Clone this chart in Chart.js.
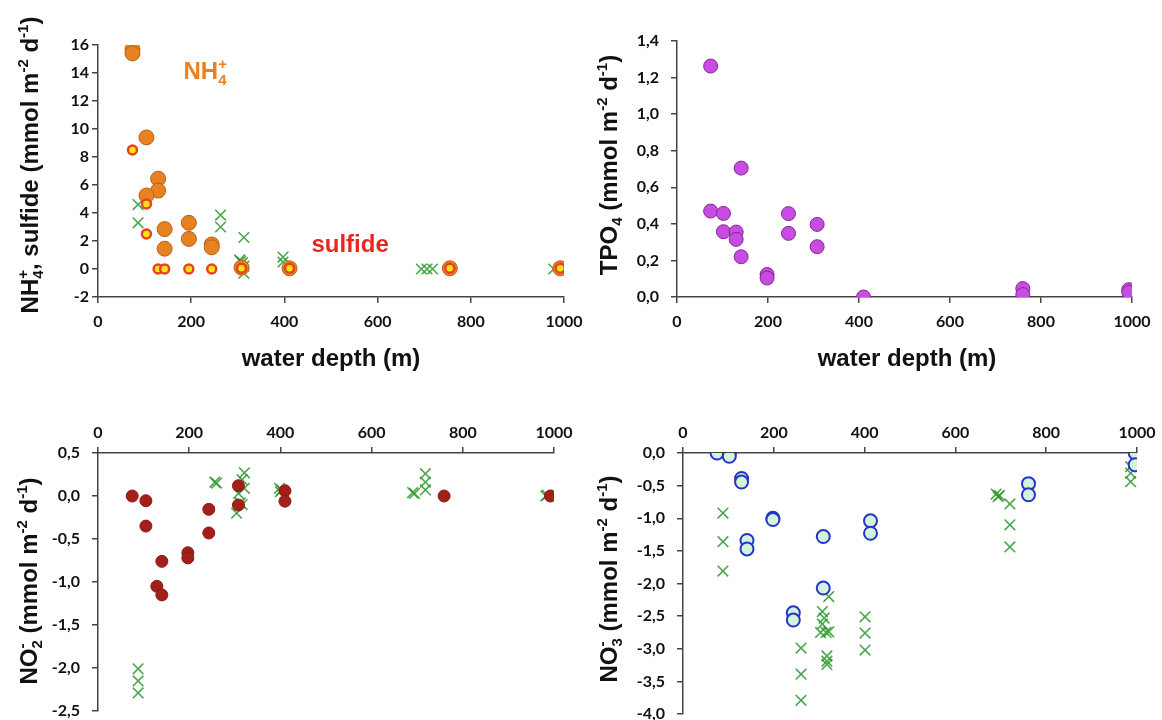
<!DOCTYPE html>
<html>
<head>
<meta charset="utf-8">
<script src="https://cdn.jsdelivr.net/npm/chart.js@4.4.0/dist/chart.umd.min.js"></script>
<style>
  body { margin: 0; background: #fff; overflow: hidden; width: 1162px; height: 720px; position: relative; }
  canvas { position: absolute; }
</style>
</head>
<body>
<canvas id="tl" width="620" height="395" style="left:0;top:0"></canvas>
<canvas id="tr" width="608" height="395" style="left:554px;top:0"></canvas>
<canvas id="bl" width="620" height="340" style="left:0;top:395px"></canvas>
<canvas id="br" width="608" height="343" style="left:554px;top:395px"></canvas>
<script>
var depthTicks = [0, 200, 400, 600, 800, 1000];

// top left: NH4+ and sulfide fluxes
var nh4Ticks = [-2, 0, 2, 4, 6, 8, 10, 12, 14, 16];
var nh4Depth = [74, 74, 104, 129, 129, 104, 143, 143, 195, 195, 244, 244, 308, 411, 755, 992];
var nh4Flux  = [15.7, 15.4, 9.4, 6.45, 5.6, 5.25, 2.85, 1.45, 3.3, 2.15, 1.75, 1.55, 0.1, 0.05, 0.05, 0.05];
var sulfDepth = [74, 104, 104, 129, 143, 195, 244, 308, 411, 755, 992];
var sulfFlux  = [8.5, 4.65, 2.5, 0, 0, 0, 0, 0.05, 0.05, 0.05, 0.05];
var nh4XDepth = [86, 86, 263, 263, 313, 304, 310, 306, 313, 313, 397, 397, 694, 706, 718, 978];
var nh4XFlux  = [4.6, 3.3, 3.85, 3.0, 2.25, 0.65, 0.45, 0.55, 0.2, -0.3, 0.85, 0.5, 0, 0, 0, 0];

// top right: TPO4
var tpoTicks = [0, 0.2, 0.4, 0.6, 0.8, 1.0, 1.2, 1.4];
var tpoDepth = [74, 74, 102, 102, 130, 130, 141, 141, 198, 198, 245, 245, 308, 308, 410, 760, 760, 993, 993];
var tpoFlux  = [1.263, 0.47, 0.457, 0.357, 0.355, 0.315, 0.705, 0.22, 0.123, 0.104, 0.456, 0.348, 0.397, 0.275, 0.0, 0.046, 0.013, 0.04, 0.026];

// bottom left: NO2-
var no2Ticks = [-2.5, -2.0, -1.5, -1.0, -0.5, 0.0, 0.5];
var no2Depth = [75, 105, 105, 140, 129, 140, 197, 197, 243, 243, 308, 308, 410, 410, 759, 992];
var no2Flux  = [0, -0.055, -0.35, -0.76, -1.05, -1.15, -0.66, -0.72, -0.155, -0.43, 0.12, -0.105, 0.06, -0.06, 0, 0];
var no2XDepth = [88, 88, 88, 260, 256, 321, 316, 321, 308, 316, 312, 304, 398, 400, 403, 694, 690, 718, 718, 718, 982, 985];
var no2XFlux  = [-2.01, -2.15, -2.29, 0.15, 0.16, 0.27, 0.19, 0.09, 0.03, -0.1, -0.08, -0.2, 0.09, 0.05, 0.07, 0.03, 0.04, 0.26, 0.16, 0.07, 0.0, 0.01];

// bottom right: NO3-
var no3Ticks = [-4.0, -3.5, -3.0, -2.5, -2.0, -1.5, -1.0, -0.5, 0.0];
var no3Depth = [75, 102, 102, 129, 129, 141, 141, 198, 198, 243, 243, 309, 309, 413, 413, 761, 761, 996, 996];
var no3Flux  = [0, 0, -0.05, -0.39, -0.445, -1.34, -1.47, -1.0, -1.02, -2.45, -2.56, -1.28, -2.07, -1.04, -1.23, -0.47, -0.64, 0, -0.18];
var no3XDepth = [88, 88, 88, 260, 260, 260, 307, 311, 307, 315, 303, 321, 321, 317, 317, 317, 401, 401, 401, 694, 690, 697, 720, 720, 720, 986, 986, 986];
var no3XFlux  = [-0.92, -1.36, -1.81, -2.99, -3.39, -3.79, -2.43, -2.53, -2.62, -2.75, -2.75, -2.2, -2.74, -3.11, -3.19, -3.24, -2.51, -2.76, -3.02, -0.67, -0.63, -0.65, -0.78, -1.1, -1.44, -0.21, -0.31, -0.44];

var axisColor = '#444';
var tickFont = { family: 'Lato, "Open Sans", sans-serif', size: 16, weight: 'bold' };
var green = 'rgba(45,150,45,0.85)';

function pts(xs, ys) {
  return xs.map(function (x, i) { return { x: x, y: ys[i] }; });
}

function comma(v) { return v.toFixed(1).replace('.', ','); }

function crosses(xs, ys) {
  return { data: pts(xs, ys), pointStyle: 'crossRot', pointRadius: 7.5, borderColor: green, borderWidth: 1.6, backgroundColor: green };
}

// draws text with sub/superscripts (axis titles and labels)
function drawRich(ctx, segs, x, y, size, color, rot) {
  ctx.save();
  ctx.translate(x, y);
  if (rot) ctx.rotate(-Math.PI / 2);
  ctx.fillStyle = color;
  ctx.textBaseline = 'alphabetic';
  var w = 0, prevW = 0, items = [];
  segs.forEach(function (s) {
    var fs = (s.sub || s.sup) ? Math.round(size * 0.62) : size;
    ctx.font = 'bold ' + fs + 'px "Liberation Sans", Arial, sans-serif';
    var sw = ctx.measureText(s.t).width;
    var sx = s.over ? w - prevW : w;
    items.push({ s: s, fs: fs, x: sx });
    w = s.over ? Math.max(w, sx + sw) : w + sw;
    prevW = sw;
  });
  items.forEach(function (it) {
    ctx.font = 'bold ' + it.fs + 'px "Liberation Sans", Arial, sans-serif';
    var dy = it.s.sub ? size * 0.24 : (it.s.sup ? -size * 0.4 : 0);
    ctx.fillText(it.s.t, -w / 2 + it.x, size * 0.36 + dy);
  });
  ctx.restore();
}

var richText = {
  id: 'richText',
  afterDraw: function (chart, args, opts) {
    (opts.items || []).forEach(function (t) {
      var x = t.x, y = t.y;
      if (t.dx !== undefined) {
        x = chart.scales.x.getPixelForValue(t.dx);
        y = chart.scales.y.getPixelForValue(t.dy);
      }
      drawRich(chart.ctx, t.segs, x, y, t.size || 24, t.color || '#111', t.rot);
    });
  }
};

function unitSegs(head) {
  return head.concat([{ t: ' (mmol m' }, { t: '-2', sup: 1 }, { t: ' d' }, { t: '-1', sup: 1 }, { t: ')' }]);
}

function makeChart(id, o) {
  return new Chart(document.getElementById(id), {
    type: 'scatter',
    data: { datasets: o.datasets },
    options: {
      responsive: false,
      animation: false,
      devicePixelRatio: 1,
      layout: { padding: o.padding },
      plugins: { legend: { display: false }, tooltip: { enabled: false }, richText: { items: o.texts } },
      scales: {
        x: {
          type: 'linear', position: o.xPos, min: 0, max: 1000,
          afterBuildTicks: function (s) { s.ticks = depthTicks.map(function (v) { return { value: v }; }); },
          afterFit: function (s) { s.height = o.xH; },
          grid: { drawOnChartArea: false, tickLength: 6, color: axisColor, lineWidth: 1.5 },
          border: { color: axisColor, width: 1.5 },
          ticks: { font: tickFont, color: '#111', padding: o.xPad, maxRotation: 0, autoSkip: false,
                   callback: function (v) { return String(v); } }
        },
        y: {
          type: 'linear', min: o.yTicks[0], max: o.yTicks[o.yTicks.length - 1],
          afterBuildTicks: function (s) { s.ticks = o.yTicks.map(function (v) { return { value: v }; }); },
          afterFit: function (s) { s.width = o.yW; },
          grid: { drawOnChartArea: false, tickLength: 6, color: axisColor, lineWidth: 1.5 },
          border: { color: axisColor, width: 1.5 },
          ticks: { font: tickFont, color: '#111', padding: o.yPad, autoSkip: false, callback: o.fmt }
        }
      }
    },
    plugins: [richText]
  });
}

makeChart('tl', {
  padding: { left: 0, top: 45, right: 56, bottom: 0 },
  xPos: 'bottom', xH: 98, xPad: 9, yW: 98, yPad: 3,
  yTicks: nh4Ticks, fmt: function (v) { return String(v); },
  datasets: [
    { data: pts(sulfDepth, sulfFlux), pointRadius: 4.5, backgroundColor: '#FFE21A', borderColor: '#E8431F', borderWidth: 2.5 },
    { data: pts(nh4Depth, nh4Flux), pointRadius: 7.5, backgroundColor: '#E8811F', borderColor: '#B8621A', borderWidth: 1 },
    crosses(nh4XDepth, nh4XFlux)
  ],
  texts: [
    { segs: unitSegs([{ t: 'NH' }, { t: '4', sub: 1 }, { t: '+', sup: 1, over: 1 }, { t: ', sulfide' }]), x: 29, y: 165, rot: true },
    { segs: [{ t: 'water depth (m)' }], x: 331, y: 357 },
    { segs: [{ t: 'NH' }, { t: '4', sub: 1 }, { t: '+', sup: 1, over: 1 }], dx: 230, dy: 14.2, color: '#E8811F' },
    { segs: [{ t: 'sulfide' }], dx: 541, dy: 1.86, color: '#E8281E' }
  ]
});

makeChart('tr', {
  padding: { left: 0, top: 41, right: 30, bottom: 0 },
  xPos: 'bottom', xH: 98, xPad: 9, yW: 123, yPad: 12,
  yTicks: tpoTicks, fmt: comma,
  datasets: [
    { data: pts(tpoDepth, tpoFlux), pointRadius: 7, backgroundColor: '#C84BE2', borderColor: '#80288F', borderWidth: 1 }
  ],
  texts: [
    { segs: unitSegs([{ t: 'TPO' }, { t: '4', sub: 1 }]), x: 54, y: 165, rot: true },
    { segs: [{ t: 'water depth (m)' }], x: 353, y: 357 }
  ]
});

makeChart('bl', {
  padding: { left: 0, top: 0, right: 66, bottom: 24 },
  xPos: 'top', xH: 58, xPad: 5, yW: 98, yPad: 12,
  yTicks: no2Ticks, fmt: comma,
  datasets: [
    { data: pts(no2Depth, no2Flux), pointRadius: 6, backgroundColor: '#A3201A', borderColor: '#8C1A12', borderWidth: 1 },
    crosses(no2XDepth, no2XFlux)
  ],
  texts: [
    { segs: unitSegs([{ t: 'NO' }, { t: '2', sub: 1 }, { t: '-', sup: 1, over: 1 }]), x: 28, y: 186, rot: true }
  ]
});

makeChart('br', {
  padding: { left: 0, top: 0, right: 25, bottom: 24 },
  xPos: 'top', xH: 58, xPad: 5, yW: 129, yPad: 12,
  yTicks: no3Ticks, fmt: comma,
  datasets: [
    { data: pts(no3Depth, no3Flux), pointRadius: 6.5, backgroundColor: '#D5F2DA', borderColor: '#2236CC', borderWidth: 2 },
    crosses(no3XDepth, no3XFlux)
  ],
  texts: [
    { segs: unitSegs([{ t: 'NO' }, { t: '3', sub: 1 }, { t: '-', sup: 1, over: 1 }]), x: 54, y: 184, rot: true }
  ]
});
</script>
</body>
</html>
